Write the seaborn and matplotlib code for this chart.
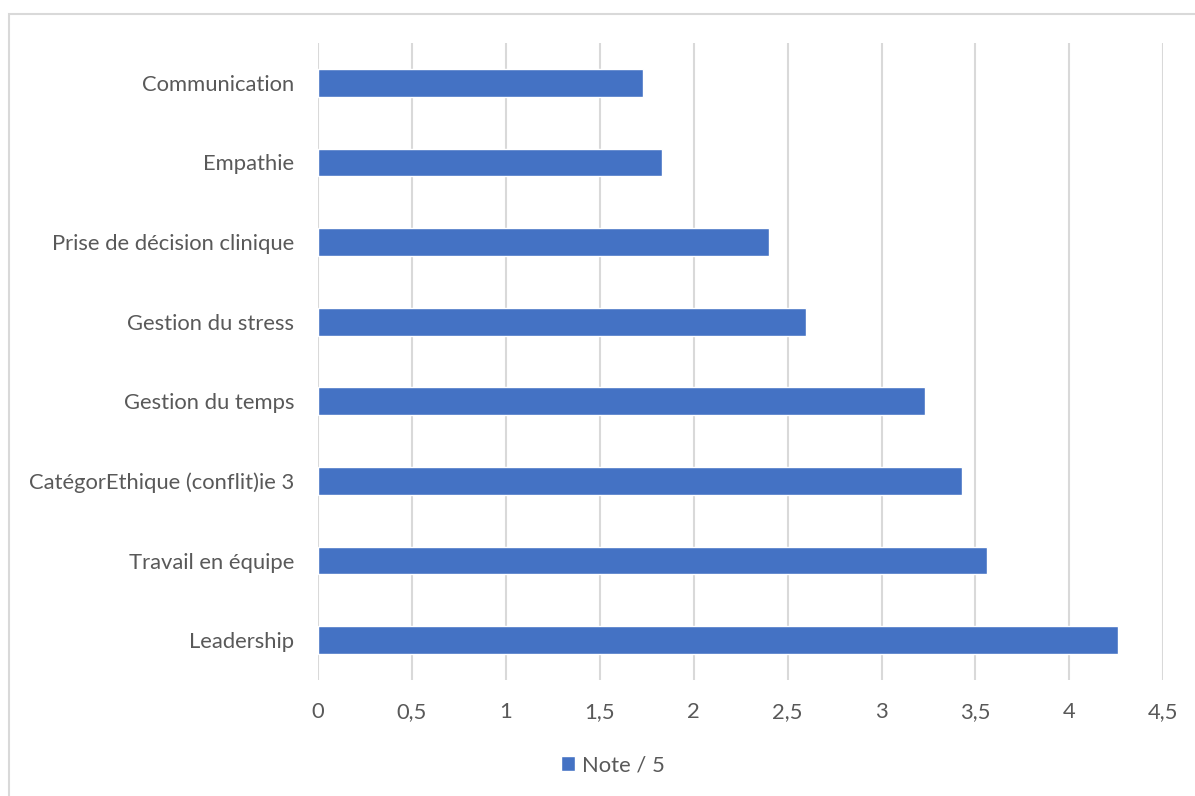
import matplotlib
matplotlib.use("Agg")
import matplotlib.pyplot as plt
from matplotlib.patches import Rectangle
import seaborn as sns
import pandas as pd

categories = [
    "Communication",
    "Empathie",
    "Prise de décision clinique",
    "Gestion du stress",
    "Gestion du temps",
    "CatégorEthique (conflit)ie 3",
    "Travail en équipe",
    "Leadership",
]
scores = [1.73, 1.83, 2.40, 2.60, 3.23, 3.43, 3.56, 4.26]
series_name = "Note / 5"
xticks = [0, 0.5, 1, 1.5, 2, 2.5, 3, 3.5, 4, 4.5]
xtick_labels = ["0", "0,5", "1", "1,5", "2", "2,5", "3", "3,5", "4", "4,5"]

df = pd.DataFrame({"Compétence": categories, "Note": scores, "Série": series_name})

sns.set_theme(style="white")
plt.rcParams["font.family"] = ["Lato", "DejaVu Sans"]

text_color = "#595959"
grid_color = "#d9d9d9"
bar_color = "#4472C4"

fig = plt.figure(figsize=(11.95, 7.96), dpi=100)
# chart-area frame, running past the right and bottom edges of the canvas
fig.patches.append(Rectangle((9 / 1195, -20 / 796), 1210 / 1195, (782 + 20) / 796,
                             transform=fig.transFigure, fill=False,
                             edgecolor=grid_color, linewidth=1.5))
ax = fig.add_axes([318 / 1195, 1 - 680 / 796, (1163.3 - 318) / 1195, (680 - 43) / 796])

sns.barplot(data=df, y="Compétence", x="Note", hue="Série", order=categories,
            palette=[bar_color], width=0.35, orient="h", ax=ax, saturation=1)

ax.set_xlim(0, 4.5)
ax.set_ylim(len(categories) - 0.5, -0.5)
ax.set_xticks(xticks)
ax.set_xticklabels(xtick_labels)
ax.xaxis.grid(True, color=grid_color, linewidth=1.5)
ax.set_axisbelow(True)
for s in ax.spines.values():
    s.set_visible(False)
ax.tick_params(axis="both", length=0, labelsize=15.8, colors=text_color)
ax.tick_params(axis="y", pad=17)
ax.tick_params(axis="x", pad=16)
ax.set_xlabel("")
ax.set_ylabel("")

sns.move_legend(ax, "center", bbox_to_anchor=(613 / 1195, 1 - 765 / 796),
                bbox_transform=fig.transFigure, frameon=False, title=None,
                fontsize=15.8, handlelength=0.65, handleheight=0.65,
                handletextpad=0.3, labelcolor=text_color)

fig.savefig("out.png", dpi=100)
